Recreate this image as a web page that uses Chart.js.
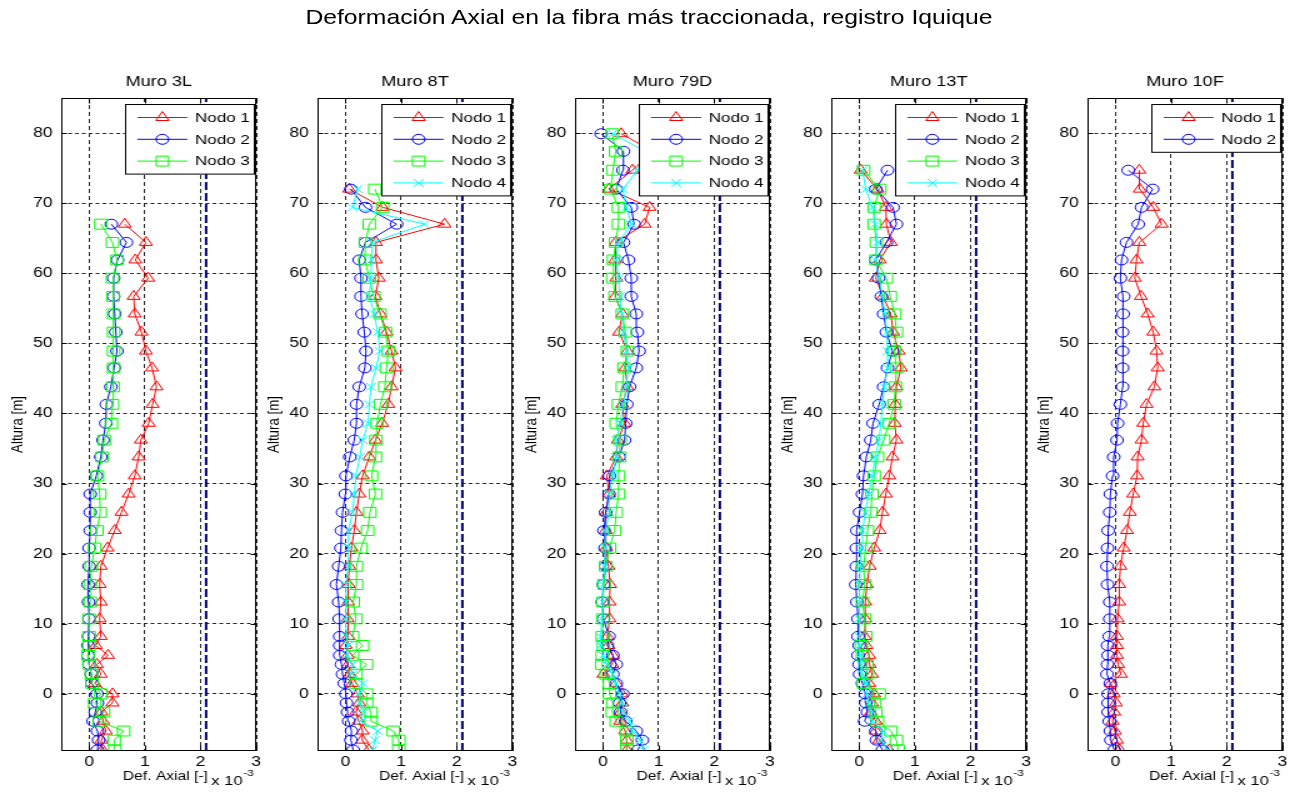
<!DOCTYPE html>
<html>
<head>
<meta charset="utf-8">
<script src="https://cdn.jsdelivr.net/npm/chart.js@4"></script>
<style>
html, body { margin: 0; padding: 0; background: #fff; overflow: hidden; }
/* la figura original esta estirada en horizontal, se reproduce con scaleX */
#fig { position: absolute; left: 0; top: 0; width: 1038.4px; height: 797px; transform: scaleX(1.25); transform-origin: 0 0; }
#titulo { position: absolute; left: 0; top: 6px; width: 1038.4px; text-align: center; font: 19.8px 'Liberation Sans', Arial, sans-serif; color: #000; }
canvas { position: absolute; }
</style>
</head>
<body>
<div id="fig">
  <div id="titulo">Deformación Axial en la fibra más traccionada, registro Iquique</div>
</div>
<script>
const xTicks = [0, 1, 2, 3];
const yTicks = [0, 10, 20, 30, 40, 50, 60, 70, 80];
const xRange = [-0.5, 3];
const yRange = [-8.15, 85];
const yieldStrain = 2.1;

const titulos = ['Muro 3L', 'Muro 8T', 'Muro 79D', 'Muro 13T', 'Muro 10F'];
const nodos = ['Nodo 1', 'Nodo 2', 'Nodo 3', 'Nodo 4'];

// alturas de los niveles [m]
const alturas = [-8.0, -6.6, -5.3, -3.9, -2.6, -1.3, 0.0, 1.5, 2.8, 4.2, 5.5, 6.9, 8.2,
  10.7, 13.1, 15.6, 18.2, 20.8, 23.3, 25.9, 28.5, 31.1, 33.8, 36.2, 38.6, 41.3, 43.8,
  46.5, 48.9, 51.6, 54.2, 56.7, 59.3, 61.9, 64.4, 67.0, 69.4, 72.0, 74.7, 77.4, 79.9];

// Muro 3L
const m3L_n1 = [0.24, 0.22, 0.30, 0.25, 0.22, 0.42, 0.42, 0.10, 0.21, 0.14, 0.34, 0.12, 0.21, 0.19, 0.21, 0.19, 0.21, 0.33, 0.46, 0.58, 0.71, 0.82, 0.89, 0.93, 1.07, 1.14, 1.21, 1.13, 1.02, 0.94, 0.82, 0.80, 1.06, 0.83, 1.02, 0.64];
const m3L_n2 = [0.15, 0.17, 0.15, 0.07, 0.11, 0.15, 0.14, 0.05, 0.04, 0.00, -0.02, -0.02, -0.01, 0.00, -0.01, -0.02, 0.00, 0.00, 0.02, 0.02, 0.02, 0.13, 0.21, 0.25, 0.30, 0.31, 0.39, 0.45, 0.50, 0.48, 0.46, 0.44, 0.44, 0.51, 0.67, 0.40];
const m3L_n3 = [0.46, 0.45, 0.62, 0.18, 0.26, 0.10, 0.21, 0.05, 0.04, 0.00, -0.02, 0.00, 0.00, 0.00, 0.02, 0.02, 0.04, 0.10, 0.14, 0.20, 0.19, 0.15, 0.23, 0.27, 0.40, 0.42, 0.43, 0.44, 0.44, 0.44, 0.44, 0.43, 0.42, 0.50, 0.42, 0.21];

// Muro 8T
const m8T_n1 = [0.42, 0.30, 0.31, 0.24, 0.19, 0.25, 0.22, 0.12, 0.08, 0.05, 0.04, 0.01, 0.05, 0.04, 0.05, 0.06, 0.07, 0.11, 0.16, 0.20, 0.25, 0.31, 0.43, 0.54, 0.66, 0.77, 0.83, 0.90, 0.83, 0.74, 0.63, 0.54, 0.60, 0.55, 0.55, 1.78, 0.67, 0.07];
const m8T_n2 = [0.14, 0.10, 0.11, 0.06, 0.04, 0.02, 0.01, -0.02, -0.05, -0.07, -0.10, -0.10, -0.10, -0.11, -0.12, -0.16, -0.12, -0.08, -0.07, -0.05, 0.00, 0.01, 0.08, 0.16, 0.20, 0.20, 0.25, 0.35, 0.37, 0.34, 0.30, 0.28, 0.28, 0.25, 0.36, 0.92, 0.36, 0.10];
const m8T_n3 = [0.96, 0.96, 0.86, 0.46, 0.46, 0.38, 0.38, 0.19, 0.19, 0.38, 0.13, 0.31, 0.13, 0.19, 0.14, 0.20, 0.20, 0.28, 0.40, 0.44, 0.54, 0.47, 0.54, 0.55, 0.57, 0.63, 0.71, 0.74, 0.77, 0.72, 0.62, 0.51, 0.43, 0.35, 0.36, 0.43, 0.67, 0.53];
const m8T_n4 = [0.49, 0.53, 0.58, 0.28, 0.32, 0.25, 0.24, 0.31, 0.12, 0.12, 0.02, 0.05, 0.02, 0.00, 0.01, 0.01, 0.05, 0.06, 0.05, 0.13, 0.16, 0.19, 0.26, 0.31, 0.41, 0.43, 0.46, 0.55, 0.62, 0.58, 0.52, 0.43, 0.46, 0.47, 0.49, 1.42, 0.13, 0.22];

// Muro 79D
const m79D_n1 = [0.43, 0.43, 0.40, 0.31, 0.32, 0.35, 0.34, 0.24, 0.01, 0.17, 0.18, 0.10, 0.08, 0.12, 0.12, 0.13, 0.10, 0.06, 0.05, 0.06, 0.11, 0.07, 0.24, 0.27, 0.39, 0.35, 0.44, 0.40, 0.44, 0.29, 0.35, 0.22, 0.24, 0.22, 0.23, 0.75, 0.84, 0.11, 0.53, 0.90, 0.33];
const m79D_n2 = [0.63, 0.71, 0.60, 0.41, 0.32, 0.30, 0.36, 0.24, 0.18, 0.24, 0.18, 0.08, 0.11, 0.01, -0.01, 0.01, 0.05, 0.04, 0.02, 0.05, 0.11, 0.12, 0.29, 0.39, 0.41, 0.43, 0.48, 0.60, 0.65, 0.62, 0.60, 0.51, 0.51, 0.46, 0.37, 0.56, 0.51, 0.24, 0.36, 0.37, -0.03];
const m79D_n3 = [0.43, 0.43, 0.42, 0.24, 0.17, 0.18, 0.12, 0.12, 0.06, -0.02, -0.01, 0.01, -0.01, 0.00, 0.00, 0.02, 0.05, 0.12, 0.21, 0.24, 0.28, 0.28, 0.30, 0.31, 0.24, 0.28, 0.35, 0.38, 0.44, 0.40, 0.35, 0.22, 0.18, 0.19, 0.23, 0.28, 0.28, 0.14, 0.18, 0.23, 0.17];
const m79D_n4 = [0.73, 0.67, 0.54, 0.48, 0.37, 0.36, 0.30, 0.23, 0.18, 0.07, 0.00, -0.04, -0.04, -0.02, 0.00, 0.00, 0.03, 0.05, 0.04, 0.12, 0.11, 0.18, 0.24, 0.25, 0.31, 0.37, 0.42, 0.46, 0.42, 0.37, 0.34, 0.30, 0.28, 0.24, 0.28, 0.51, 0.42, 0.36, 0.62, 0.75, 0.18];

// Muro 13T
const m13T_n1 = [0.54, 0.36, 0.30, 0.30, 0.21, 0.23, 0.27, 0.18, 0.23, 0.19, 0.18, 0.13, 0.10, 0.11, 0.11, 0.14, 0.19, 0.27, 0.37, 0.42, 0.48, 0.54, 0.60, 0.67, 0.64, 0.65, 0.67, 0.75, 0.71, 0.61, 0.57, 0.43, 0.30, 0.37, 0.57, 0.49, 0.48, 0.33, 0.03];
const m13T_n2 = [0.42, 0.31, 0.30, 0.10, 0.15, 0.12, 0.11, 0.06, 0.01, 0.00, -0.02, 0.00, -0.02, -0.02, -0.04, -0.06, -0.05, -0.05, -0.04, 0.01, 0.06, 0.08, 0.13, 0.21, 0.25, 0.36, 0.44, 0.51, 0.60, 0.49, 0.44, 0.40, 0.35, 0.30, 0.49, 0.67, 0.61, 0.30, 0.51];
const m13T_n3 = [0.70, 0.67, 0.57, 0.33, 0.30, 0.27, 0.36, 0.08, 0.15, 0.14, 0.06, 0.04, 0.12, 0.10, 0.06, 0.10, 0.08, 0.12, 0.15, 0.21, 0.23, 0.27, 0.33, 0.44, 0.54, 0.63, 0.65, 0.67, 0.63, 0.67, 0.64, 0.56, 0.49, 0.30, 0.31, 0.27, 0.27, 0.37, 0.08];
const m13T_n4 = [0.51, 0.40, 0.42, 0.24, 0.23, 0.18, 0.14, 0.12, 0.06, 0.04, 0.01, 0.01, 0.00, 0.00, 0.01, 0.01, 0.02, 0.04, 0.06, 0.11, 0.17, 0.24, 0.29, 0.36, 0.39, 0.42, 0.45, 0.51, 0.51, 0.50, 0.46, 0.42, 0.36, 0.29, 0.33, 0.29, 0.24, 0.12, 0.06];

// Muro 10F
const m10F_n1 = [0.08, 0.03, -0.01, -0.05, -0.02, 0.01, -0.03, -0.08, 0.10, 0.05, 0.03, 0.03, 0.03, 0.04, 0.07, 0.07, 0.09, 0.15, 0.21, 0.26, 0.32, 0.39, 0.40, 0.47, 0.50, 0.56, 0.70, 0.76, 0.74, 0.68, 0.58, 0.46, 0.35, 0.38, 0.43, 0.83, 0.68, 0.44, 0.43];
const m10F_n2 = [-0.02, -0.08, -0.09, -0.11, -0.13, -0.13, -0.13, -0.09, -0.15, -0.14, -0.13, -0.14, -0.11, -0.10, -0.10, -0.14, -0.15, -0.14, -0.13, -0.10, -0.09, -0.05, -0.03, 0.03, 0.04, 0.09, 0.13, 0.13, 0.13, 0.13, 0.14, 0.15, 0.09, 0.11, 0.20, 0.41, 0.47, 0.67, 0.23];

const panels = [
  { titulo: titulos[0], series: [m3L_n1, m3L_n2, m3L_n3] },
  { titulo: titulos[1], series: [m8T_n1, m8T_n2, m8T_n3, m8T_n4] },
  { titulo: titulos[2], series: [m79D_n1, m79D_n2, m79D_n3, m79D_n4] },
  { titulo: titulos[3], series: [m13T_n1, m13T_n2, m13T_n3, m13T_n4] },
  { titulo: titulos[4], series: [m10F_n1, m10F_n2] }
];

const estilos = [
  { color: '#FF0000', pointStyle: 'triangle', radius: 6 },
  { color: '#0000FF', pointStyle: 'circle', radius: 5 },
  { color: '#00FF00', pointStyle: 'rect', radius: 7 },
  { color: '#00FFFF', pointStyle: 'crossRot', radius: 5.5 }
];

// posiciones (en unidades sin estirar)
const panelLeft = [49.2, 254.48, 459.76, 665.04, 870.32];
const FONT = "'Liberation Sans', Arial, sans-serif";

Chart.defaults.font.family = FONT;
Chart.defaults.font.size = 14;
Chart.defaults.color = '#000';

const decor = {
  id: 'decor',
  afterDatasetsDraw(chart) {
    const { ctx, chartArea: ca, scales: { x, y } } = chart;
    ctx.save();
    const l = Math.round(ca.left) + 0.5, r = Math.round(ca.right) - 0.5;
    const t = Math.round(ca.top) + 0.5, b = Math.round(ca.bottom) - 0.5;
    ctx.strokeStyle = '#000';
    ctx.lineWidth = 1;
    ctx.setLineDash([]);
    ctx.strokeRect(l, t, r - l, b - t);
    ctx.beginPath();
    xTicks.forEach(v => {
      const px = Math.round(x.getPixelForValue(v)) + 0.5;
      ctx.moveTo(px, b); ctx.lineTo(px, b - 5);
      ctx.moveTo(px, t); ctx.lineTo(px, t + 5);
    });
    yTicks.forEach(v => {
      const py = Math.round(y.getPixelForValue(v)) + 0.5;
      ctx.moveTo(l, py); ctx.lineTo(l + 4, py);
      ctx.moveTo(r, py); ctx.lineTo(r - 4, py);
    });
    ctx.stroke();

    // leyenda dentro del grafico
    const items = chart.data.datasets.filter(d => nodos.includes(d.label));
    const rowH = 21.8, bw = 103;
    const bh = 26 + rowH * (items.length - 1);
    const bx = Math.round(ca.right - 2 - bw) + 0.5, by = Math.round(ca.top + 6) + 0.5;
    ctx.fillStyle = '#fff';
    ctx.fillRect(bx, by, bw, bh);
    ctx.strokeRect(bx, by, bw, bh);
    ctx.font = '13.6px ' + FONT;
    ctx.textBaseline = 'middle';
    ctx.textAlign = 'left';
    items.forEach((d, i) => {
      const yy = by + 13 + rowH * i;
      ctx.strokeStyle = d.borderColor;
      ctx.lineWidth = 1;
      ctx.beginPath();
      ctx.moveTo(bx + 9.4, yy); ctx.lineTo(bx + 49.4, yy);
      ctx.stroke();
      ctx.fillStyle = 'rgba(0,0,0,0)';
      Chart.helpers.drawPoint(ctx, { pointStyle: d.pointStyle, radius: d.pointRadius, borderWidth: 1, rotation: 0 }, bx + 29.4, yy);
      ctx.fillStyle = '#000';
      ctx.fillText(d.label, bx + 55.5, yy + 0.5);
    });
    ctx.restore();
  },
  afterDraw(chart, args, opts) {
    const { ctx, chartArea: ca } = chart;
    const cx = (ca.left + ca.right) / 2;
    ctx.save();
    ctx.fillStyle = '#000';
    ctx.font = '14.5px ' + FONT;
    ctx.textAlign = 'center';
    ctx.textBaseline = 'middle';
    ctx.fillText(opts.titulo, cx, ca.top - 16.5);
    // etiqueta del eje x
    ctx.font = '12.5px ' + FONT;
    ctx.fillText(opts.xlabel, cx + 5.3, ca.bottom + 25.5);
    // factor de escala del eje x
    ctx.font = '13.3px ' + FONT;
    ctx.textAlign = 'left';
    ctx.textBaseline = 'alphabetic';
    const x0 = ca.right - 36;
    ctx.fillText('x 10', x0, ca.bottom + 34);
    const w = ctx.measureText('x 10').width;
    ctx.font = '9.5px ' + FONT;
    ctx.fillText('-3', x0 + w + 0.5, ca.bottom + 25);
    ctx.restore();
  }
};

const fig = document.getElementById('fig');

panels.forEach((p, k) => {
  const cv = document.createElement('canvas');
  cv.width = 218;
  cv.height = 737;
  cv.style.left = (panelLeft[k] - 50) + 'px';
  cv.style.top = '60px';
  cv.style.width = '218px';
  cv.style.height = '737px';
  fig.appendChild(cv);

  const datasets = p.series.map((vals, i) => ({
    label: nodos[i],
    data: vals.map((v, j) => ({ x: v, y: alturas[j] })),
    showLine: true,
    borderColor: estilos[i].color,
    borderWidth: 1,
    pointStyle: estilos[i].pointStyle,
    pointRadius: estilos[i].radius,
    pointBorderColor: estilos[i].color,
    pointBackgroundColor: 'rgba(0,0,0,0)',
    pointBorderWidth: 1,
    order: 4 - i
  }));
  datasets.push({
    label: 'fluencia',
    data: [{ x: yieldStrain, y: yRange[0] }, { x: yieldStrain, y: yRange[1] }],
    showLine: true,
    borderColor: '#00007F',
    borderWidth: 2,
    borderDash: [8, 3],
    pointRadius: 0,
    order: 10
  });

  new Chart(cv, {
    type: 'scatter',
    data: { datasets },
    plugins: [decor],
    options: {
      responsive: false,
      animation: false,
      events: [],
      layout: { padding: { left: 0, right: 12, top: 38, bottom: 6 } },
      plugins: {
        legend: { display: false },
        tooltip: { enabled: false },
        title: { display: false },
        decor: { titulo: p.titulo, xlabel: 'Def. Axial [-]' }
      },
      scales: {
        x: {
          type: 'linear',
          min: xRange[0],
          max: xRange[1],
          afterBuildTicks: s => { s.ticks = xTicks.map(v => ({ value: v })); },
          afterFit: s => { s.height = 40; },
          ticks: { padding: 3, color: '#000' },
          grid: { color: '#262626', lineWidth: 1, drawTicks: false },
          border: { display: false, dash: [4, 3] }
        },
        y: {
          type: 'linear',
          min: yRange[0],
          max: yRange[1],
          afterBuildTicks: s => { s.ticks = yTicks.map(v => ({ value: v })); },
          afterFit: s => { s.width = 50; },
          ticks: { padding: 7, color: '#000' },
          grid: { color: '#262626', lineWidth: 1, drawTicks: false },
          border: { display: false, dash: [3, 2.5] },
          title: { display: true, text: 'Altura [m]', color: '#000', font: { size: 13.3 }, padding: { top: 7, bottom: 0 } }
        }
      }
    }
  });
});
</script>
</body>
</html>
